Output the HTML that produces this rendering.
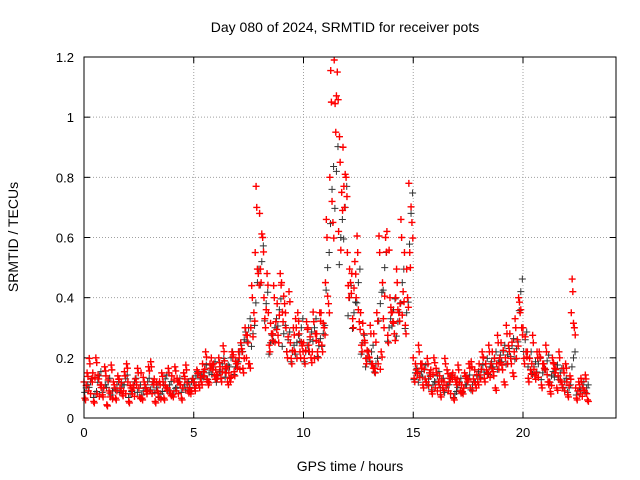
<!DOCTYPE html>
<html><head><meta charset="utf-8"><style>
html,body{margin:0;padding:0;background:#fff;}
svg{display:block;font-family:"Liberation Sans",sans-serif;}
</style></head><body>
<svg id="chart" width="640" height="480">
<text x="345" y="32" text-anchor="middle" font-size="14">Day 080 of 2024, SRMTID for receiver pots</text>
<text x="350" y="471" text-anchor="middle" font-size="14">GPS time / hours</text>
<text transform="translate(18,237) rotate(-90)" text-anchor="middle" font-size="14">SRMTID / TECUs</text>
<g id="grid"></g><g id="ticks"></g><g id="marks"></g>
<rect x="84" y="57" width="532" height="361" fill="none" stroke="#000" stroke-width="1"/>
</svg>
<script>
const times = []; for (let i = 0; i < 115; i++) times.push(i * 0.2);
const xTicks = [0, 5, 10, 15, 20];
const yTicks = [0, 0.2, 0.4, 0.6, 0.8, 1, 1.2];
const yTickLabels = ["0", "0.2", "0.4", "0.6", "0.8", "1", "1.2"];
const redA = [.12,.09,.15,.08,.11,.14,.07,.10,.13,.09,.12,.08,.11,.15,.10,.09,.13,.07,.12,.10,.14,.09,.11,.13,.10,
.12,.15,.18,.13,.20,.16,.17,.19,.15,.21,.18,.22,.20,.30,.55,.68,.40,.35,.28,.38,.45,.30,.25,.22,.28,
.25,.30,.22,.28,.35,.45,.80,1.19,.62,.90,.55,.48,.40,.35,.25,.20,.28,.18,.45,.62,.35,.40,.38,.55,.78,
.20,.15,.18,.12,.16,.10,.14,.12,.09,.15,.13,.11,.14,.10,.16,.18,.20,.15,.22,.18,.25,.20,.28,.22,.40,
.30,.22,.18,.15,.20,.16,.12,.18,.14,.10,.12,.35,.10,.08,.09];
const redB = [.06,.18,.05,.13,.07,.04,.16,.06,.09,.14,.05,.10,.15,.06,.08,.17,.05,.11,.06,.15,.07,.12,.06,.16,.08,
.09,.10,.14,.11,.16,.13,.12,.15,.12,.14,.20,.15,.25,.40,.70,.45,.30,.22,.40,.25,.32,.20,.18,.30,.20,
.18,.22,.32,.20,.22,.60,1.05,.95,.85,.70,.40,.30,.55,.22,.18,.28,.15,.55,.30,.25,.32,.45,.60,.28,.50,
.12,.22,.10,.18,.08,.15,.07,.18,.12,.06,.16,.08,.12,.17,.10,.13,.12,.22,.14,.25,.16,.28,.18,.30,.35,
.18,.12,.25,.20,.10,.22,.08,.15,.20,.15,.07,.42,.06,.12,.13];
const redC = [.15,.13,.20,.11,.17,.09,.12,.14,.08,.18,.10,.13,.07,.12,.17,.12,.09,.15,.10,.08,.17,.12,.15,.09,.13,
.16,.12,.22,.18,.14,.20,.24,.12,.22,.18,.25,.30,.18,.35,.48,.60,.48,.28,.32,.48,.38,.42,.30,.35,.24,
.32,.20,.28,.35,.30,.38,.65,1.15,.75,.80,.45,.52,.32,.28,.22,.18,.35,.22,.60,.40,.28,.35,.42,.40,.65,
.16,.18,.13,.15,.20,.12,.10,.16,.14,.12,.09,.15,.18,.13,.12,.22,.16,.18,.10,.20,.12,.24,.15,.26,.30,
.22,.16,.14,.22,.18,.12,.20,.10,.12,.18,.14,.30,.12,.10,.06];
const black = [.10,.12,.08,.14,.10,.12,.09,.11,.10,.13,.08,.12,.10,.09,.12,.11,.10,.08,.13,.11,.09,.12,.10,.11,.12,
.14,.13,.16,.15,.17,.14,.18,.16,.20,.17,.22,.26,.30,.28,.45,.52,.38,.25,.30,.36,.28,.26,.22,.25,.30,
.22,.26,.30,.24,.28,.50,.76,.82,.60,.70,.40,.35,.45,.25,.20,.22,.18,.38,.50,.30,.36,.32,.45,.35,.68,
.15,.14,.16,.13,.11,.14,.12,.10,.13,.08,.12,.10,.13,.11,.14,.16,.18,.17,.20,.19,.22,.21,.24,.23,.42,
.26,.20,.17,.18,.15,.19,.14,.16,.15,.12,.10,.20,.09,.11,.10];

const NS = "http://www.w3.org/2000/svg";
const X0 = 84, X1 = 616, Y0 = 418, Y1 = 57;
const xPerH = 21.95;
function xs(t) { return X0 + t * xPerH; }
function ys(v) { return Y0 - (v / 1.2) * (Y0 - Y1); }
function mk(tag, attrs, parent) {
  const e = document.createElementNS(NS, tag);
  for (const k in attrs) e.setAttribute(k, attrs[k]);
  parent.appendChild(e); return e;
}
const grid = document.getElementById("grid"), ticks = document.getElementById("ticks"), marks = document.getElementById("marks");
xTicks.forEach(t => {
  const x = xs(t);
  if (t > 0) {
    const g = mk("line", {x1:x, x2:x, y1:Y1, y2:Y0, stroke:"#a0a0a0", "stroke-dasharray":"1,2"}, grid);
    
    
  }
  mk("line", {x1:x, x2:x, y1:Y0, y2:Y0-6, stroke:"#000"}, ticks);
  mk("line", {x1:x, x2:x, y1:Y1, y2:Y1+6, stroke:"#000"}, ticks);
  const lb = mk("text", {x:x, y:Y0+19, "text-anchor":"middle", "font-size":"13"}, ticks);
  lb.textContent = t;
  
  
});
yTicks.forEach((v, i) => {
  const y = ys(v);
  if (v > 0 && v < 1.2) {
    const g = mk("line", {x1:X0, x2:X1, y1:y, y2:y, stroke:"#a0a0a0", "stroke-dasharray":"1,2"}, grid);
    
    
  }
  mk("line", {x1:X0, x2:X0+6, y1:y, y2:y, stroke:"#000"}, ticks);
  mk("line", {x1:X1, x2:X1-6, y1:y, y2:y, stroke:"#000"}, ticks);
  const lb = mk("text", {x:X0-10, y:y+5, "text-anchor":"end", "font-size":"13"}, ticks);
  lb.textContent = yTickLabels[i];
  
  
});
function plus(t, v, color, name, w) {
  const x = xs(t), y = ys(v);
  const p = mk("path", {d:`M${x-3.5},${y}h7M${x},${y-3.5}v7`, stroke:color, "stroke-width":w, fill:"none"}, marks);
  
  
}
black.forEach((v, i) => {
  plus(times[i] + 0.1, v, "#333", "black-point", 1);
  plus(times[i] + 0.03, v * 0.85, "#333", "black-point", 1);
  plus(times[i] + 0.17, v * 1.1, "#333", "black-point", 1);
});
redA.forEach((v, i) => { plus(times[i], v, "#f00", "red-point", 1.4); plus(times[i] + 0.1, v * 0.9, "#f00", "red-point", 1.4); });
redB.forEach((v, i) => { plus(times[i] + 0.07, v, "#f00", "red-point", 1.4); plus(times[i] + 0.04, v * 1.1, "#f00", "red-point", 1.4); });
redC.forEach((v, i) => { plus(times[i] + 0.14, v, "#f00", "red-point", 1.4); plus(times[i] + 0.18, v * 0.92, "#f00", "red-point", 1.4); });
</script>
</body></html>
